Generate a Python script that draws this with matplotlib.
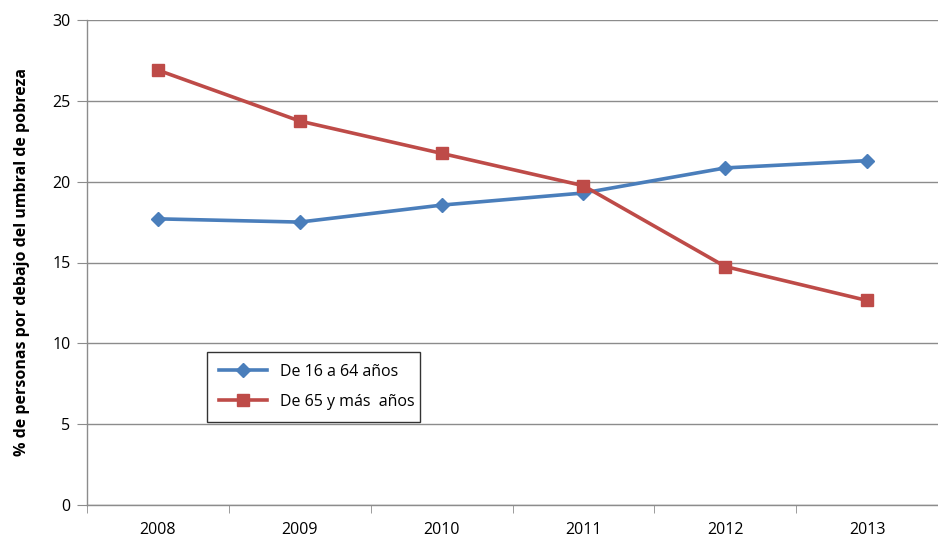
import matplotlib
matplotlib.use("Agg")
import matplotlib.pyplot as plt
from matplotlib.lines import Line2D

years = ["2008", "2009", "2010", "2011", "2012", "2013"]
edad_16_64 = [17.7, 17.5, 18.55, 19.3, 20.85, 21.3]
edad_65_mas = [26.9, 23.75, 21.75, 19.75, 14.75, 12.65]
series_labels = ["De 16 a 64 años", "De 65 y más  años"]
ylabel = "% de personas por debajo del umbral de pobreza"

plt.rcParams['font.family'] = ['Open Sans', 'DejaVu Sans']

fig = plt.figure(figsize=(9.38, 5.39), dpi=100)
ax = fig.add_axes([87/938, (539-505)/539, 1-87/938, 485/539])

blue = "#4A7EBB"
red = "#BE4B48"
x = list(range(len(years)))
ax.plot(x, edad_16_64, color=blue, lw=2.6, marker="D", ms=7, mec=blue, mfc=blue, zorder=3)
ax.plot(x, edad_65_mas, color=red, lw=2.6, marker="s", ms=9, mec=red, mfc=red, zorder=3)

ax.set_ylim(0, 30)
ax.set_xlim(-0.5, 5.45)
ax.set_yticks([0, 5, 10, 15, 20, 25, 30])
ax.yaxis.grid(True, color="#8C8C8C", lw=1.0)
ax.set_axisbelow(True)
ax.set_xticks(x)
ax.set_xticklabels(years, fontsize=11.5)
ax.set_xticks([i - 0.5 for i in range(len(years) + 1)], minor=True)
ax.tick_params(axis="x", which="major", length=0, pad=12)
ax.tick_params(axis="x", which="minor", length=6, color="#8C8C8C", direction="out")
ax.tick_params(axis="y", length=7, color="#8C8C8C", labelsize=11.5, pad=5)
for s in ["top", "right"]:
    ax.spines[s].set_visible(False)
for s in ["left", "bottom"]:
    ax.spines[s].set_color("#8C8C8C")
    ax.spines[s].set_linewidth(1.0)

ax.set_ylabel(ylabel, fontsize=11.5, fontweight="bold", labelpad=16)

handles = [Line2D([], [], color=blue, lw=2.6, marker="D", ms=7),
           Line2D([], [], color=red, lw=2.6, marker="s", ms=9)]
leg = ax.legend(handles, series_labels, loc="lower left", bbox_to_anchor=(0.141, 0.171, 0.25, 0.149),
                mode="expand", fontsize=11.5, frameon=True, fancybox=False, edgecolor="black",
                handlelength=3.0, borderpad=0.75, labelspacing=0.9, borderaxespad=0)
leg.get_frame().set_linewidth(1.0)

fig.savefig("out.png", dpi=100)
